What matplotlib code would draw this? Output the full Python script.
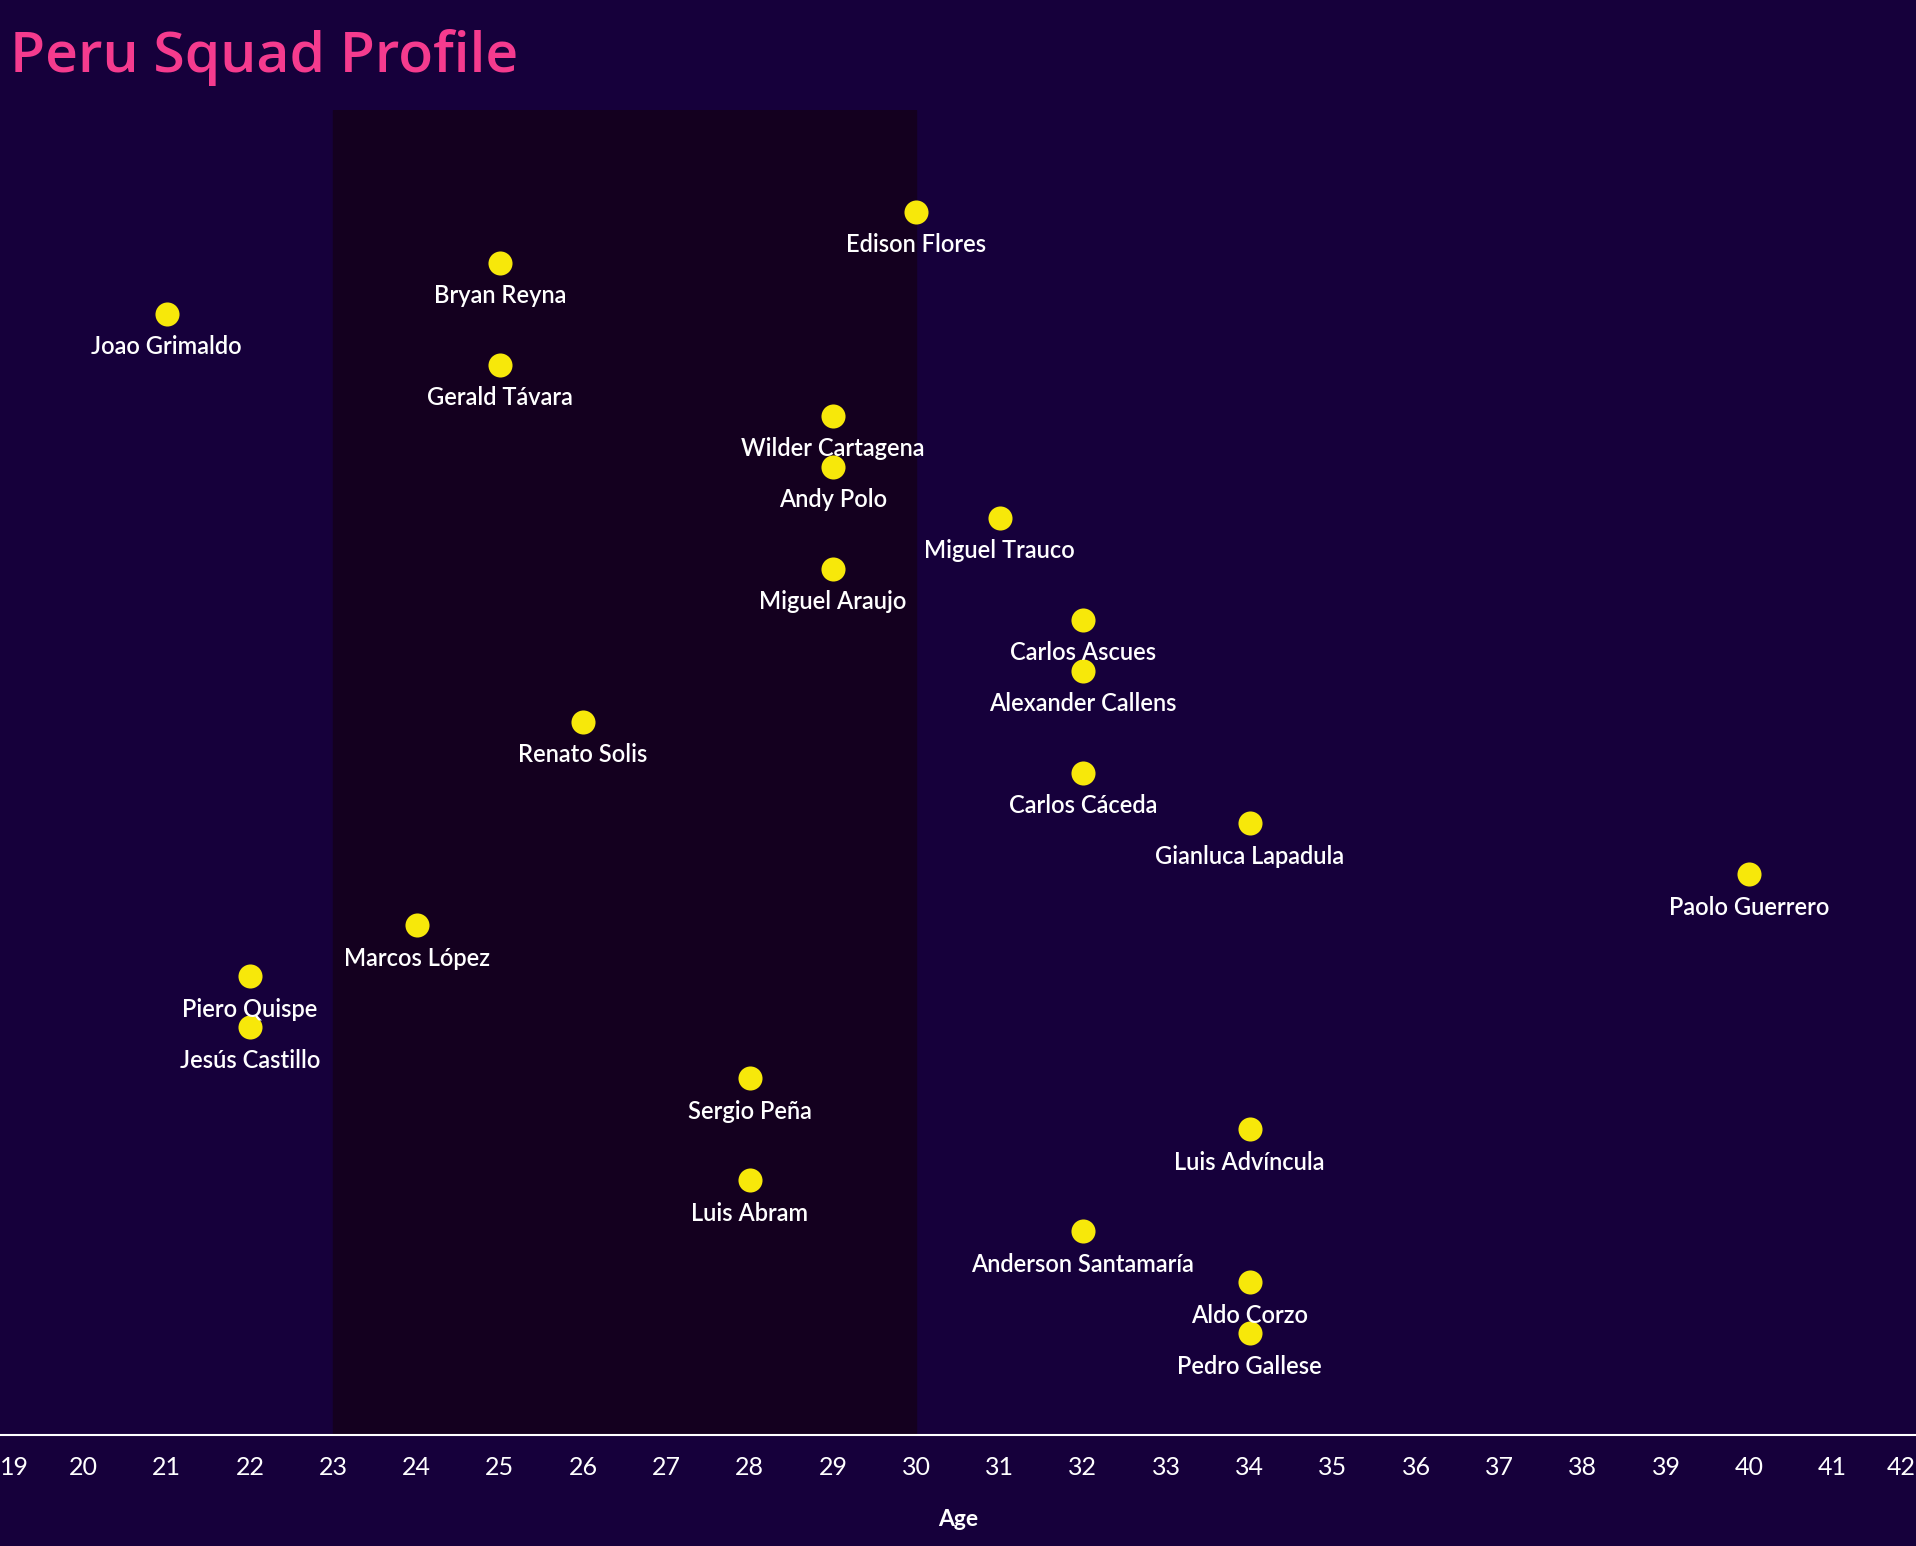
import matplotlib
matplotlib.use("Agg")
import matplotlib.pyplot as plt

plt.rcParams['font.family'] = ['Lato', 'DejaVu Sans']

# squad, top to bottom
players = ["Edison Flores", "Bryan Reyna", "Joao Grimaldo", "Gerald Távara",
           "Wilder Cartagena", "Andy Polo", "Miguel Trauco", "Miguel Araujo",
           "Carlos Ascues", "Alexander Callens", "Renato Solis", "Carlos Cáceda",
           "Gianluca Lapadula", "Paolo Guerrero", "Marcos López", "Piero Quispe",
           "Jesús Castillo", "Sergio Peña", "Luis Advíncula", "Luis Abram",
           "Anderson Santamaría", "Aldo Corzo", "Pedro Gallese"]
ages = [30, 25, 21, 25, 29, 29, 31, 29, 32, 32, 26, 32, 34, 40, 24, 22,
        22, 28, 34, 28, 32, 34, 34]
age_ticks = list(range(19, 43))
peak_start, peak_end = 23, 30

bg = "#16003b"
band = "#14001f"
dot = "#f7e80a"

fig = plt.figure(figsize=(19.16, 15.46), dpi=100, facecolor=bg)
ax = fig.add_axes([0, 0.0718, 1, 0.8570])
ax.set_facecolor(bg)

rank = list(range(len(players)))
ax.axvspan(peak_start, peak_end, color=band, zorder=0)
ax.scatter(ages, rank, s=300, color=dot, zorder=3, linewidths=0)
for name, a, r in zip(players, ages, rank):
    ax.annotate(name, (a, r), xytext=(0, -33), textcoords="offset pixels",
                ha="center", va="center", color="white", fontsize=17,
                fontweight="semibold", zorder=4)

ax.set_xlim(19, 42)
ax.set_ylim(24, -2)
ax.set_yticks([])
ax.set_xticks(age_ticks)
ax.set_xticklabels([str(t) for t in age_ticks])
ax.tick_params(axis="x", length=0, pad=15, labelsize=18, labelcolor="white")
labels = ax.get_xticklabels()
labels[0].set_horizontalalignment("left")
labels[-1].set_horizontalalignment("right")

for side in ["top", "left", "right"]:
    ax.spines[side].set_visible(False)
ax.spines["bottom"].set_color("white")
ax.spines["bottom"].set_linewidth(1.5)

ax.set_xlabel("Age", color="white", fontsize=16.5, fontweight="bold", labelpad=22)

fig.text(0.005, 0.963, "Peru Squad Profile", color="#f53b8e", fontsize=41,
         fontweight="semibold", family=["Open Sans", "DejaVu Sans"],
         ha="left", va="center")

fig.savefig("out.png", dpi=100, facecolor=bg)
